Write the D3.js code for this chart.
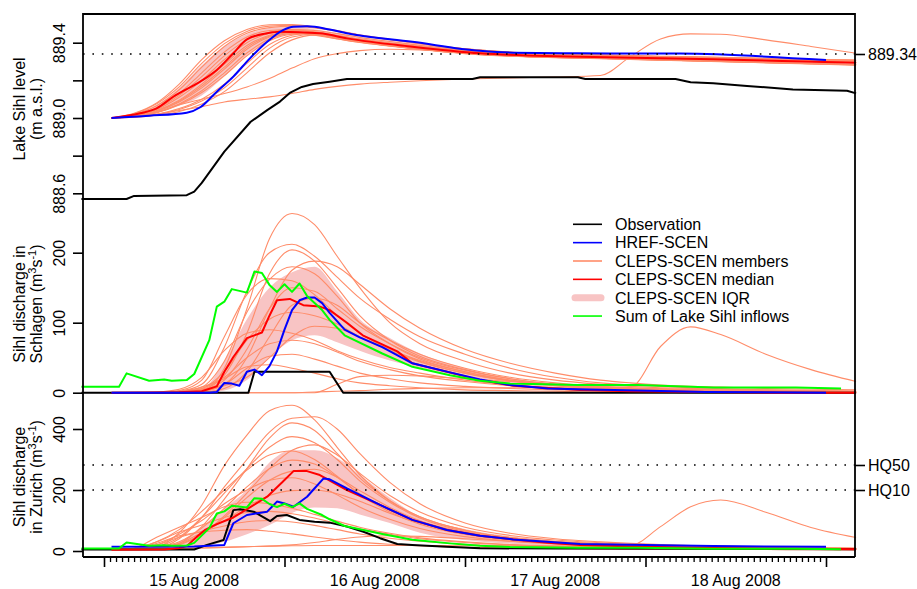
<!DOCTYPE html>
<html><head><meta charset="utf-8">
<script src="https://cdn.jsdelivr.net/npm/d3@7"></script>
<style>
body{margin:0;background:#fff}
svg{display:block}
text{font-family:"Liberation Sans",Arial,Helvetica,sans-serif;fill:#000}
</style></head>
<body><svg id="chart" width="917" height="589"></svg>
<script>
// ---------------- DATA (hours after 15 Aug 2008 00:00) ----------------
const memberHours = [1,4,7,10,13,16,19,22,25,28,31,34,38,42,48,54,60,66,70,74,78,82,88,94,100];

// Lake Sihl level (m a.s.l.) – CLEPS-SCEN members
const levelMembers = [
 [889.000,889.025,889.080,889.180,889.310,889.410,889.470,889.495,889.497,889.485,889.465,889.442,889.418,889.396,889.368,889.350,889.341,889.336,889.332,889.328,889.325,889.322,889.317,889.312,889.308],
 [889.000,889.020,889.065,889.150,889.270,889.380,889.450,889.480,889.487,889.478,889.460,889.439,889.416,889.394,889.366,889.349,889.340,889.335,889.331,889.327,889.324,889.321,889.316,889.311,889.306],
 [889.000,889.015,889.055,889.130,889.240,889.350,889.430,889.465,889.470,889.455,889.436,889.417,889.396,889.378,889.354,889.339,889.331,889.326,889.322,889.318,889.314,889.311,889.306,889.300,889.295],
 [889.000,889.022,889.075,889.165,889.290,889.395,889.460,889.488,889.492,889.482,889.462,889.440,889.417,889.395,889.367,889.349,889.340,889.335,889.331,889.327,889.324,889.321,889.316,889.311,889.307],
 [889.000,889.012,889.045,889.110,889.200,889.310,889.400,889.450,889.465,889.458,889.438,889.418,889.397,889.379,889.355,889.340,889.332,889.327,889.323,889.319,889.315,889.312,889.307,889.301,889.296],
 [889.000,889.010,889.040,889.095,889.180,889.285,889.385,889.440,889.458,889.440,889.420,889.401,889.382,889.364,889.342,889.328,889.320,889.315,889.311,889.307,889.303,889.299,889.293,889.287,889.281],
 [889.000,889.010,889.035,889.085,889.160,889.260,889.365,889.430,889.455,889.452,889.434,889.415,889.395,889.377,889.353,889.338,889.330,889.325,889.321,889.317,889.313,889.310,889.305,889.299,889.294],
 [889.000,889.008,889.030,889.075,889.145,889.240,889.345,889.420,889.448,889.442,889.421,889.402,889.383,889.365,889.343,889.329,889.321,889.316,889.312,889.308,889.304,889.300,889.294,889.288,889.282],
 [889.000,889.008,889.028,889.070,889.135,889.225,889.330,889.410,889.445,889.450,889.434,889.416,889.396,889.378,889.354,889.339,889.331,889.326,889.322,889.318,889.314,889.311,889.306,889.300,889.295],
 [889.000,889.012,889.050,889.120,889.220,889.330,889.415,889.455,889.470,889.465,889.448,889.428,889.406,889.386,889.360,889.344,889.336,889.331,889.327,889.323,889.320,889.317,889.312,889.306,889.302],
 [889.000,889.010,889.038,889.090,889.170,889.270,889.375,889.435,889.456,889.445,889.424,889.404,889.384,889.366,889.344,889.330,889.322,889.317,889.313,889.309,889.305,889.301,889.295,889.289,889.283],
 [889.000,889.005,889.020,889.050,889.100,889.180,889.290,889.390,889.440,889.452,889.438,889.419,889.398,889.380,889.356,889.341,889.332,889.327,889.323,889.319,889.315,889.312,889.307,889.301,889.296],
 [889.000,889.005,889.018,889.045,889.090,889.160,889.265,889.370,889.430,889.445,889.428,889.408,889.387,889.368,889.345,889.330,889.322,889.317,889.313,889.309,889.305,889.301,889.295,889.289,889.283],
 [889.000,889.004,889.015,889.035,889.075,889.140,889.240,889.345,889.415,889.440,889.430,889.411,889.390,889.371,889.347,889.331,889.323,889.318,889.314,889.310,889.306,889.302,889.296,889.290,889.284],
 [889.000,889.010,889.030,889.070,889.100,889.130,889.165,889.210,889.265,889.315,889.342,889.358,889.365,889.362,889.350,889.338,889.330,889.325,889.322,889.318,889.314,889.311,889.306,889.300,889.295],
 [889.000,889.006,889.020,889.040,889.060,889.085,889.100,889.112,889.130,889.152,889.168,889.180,889.190,889.198,889.207,889.213,889.218,889.226,889.326,889.420,889.447,889.445,889.415,889.380,889.344]
];
const levelIqrLow  = [889.000,889.008,889.028,889.065,889.120,889.220,889.330,889.410,889.445,889.440,889.422,889.405,889.385,889.368,889.345,889.331,889.323,889.317,889.313,889.309,889.305,889.301,889.295,889.289,889.283];
const levelIqrHigh = [889.000,889.020,889.070,889.160,889.280,889.380,889.445,889.478,889.487,889.472,889.452,889.432,889.410,889.390,889.365,889.348,889.340,889.335,889.332,889.328,889.325,889.322,889.317,889.312,889.308];

// Sihl discharge in Schlagen (m3/s) – members
const schlagenMembers = [
 [0,0,0,0,3,35,120,220,256,240,195,150,100,70,45,28,18,12,9,7,6,5,4,3,2],
 [0,0,0,2,12,65,145,200,212,195,165,135,105,80,55,35,22,14,11,9,7,6,4,3,2],
 [0,0,0,0,4,25,85,170,204,188,150,110,75,52,33,20,12,8,6,5,4,3,2,2,1],
 [0,0,0,0,2,12,50,120,175,188,180,155,120,92,62,42,28,18,14,11,9,8,6,5,4],
 [0,0,0,1,8,45,115,162,180,170,138,100,70,48,30,18,11,7,5,4,3,3,2,2,1],
 [0,0,0,3,18,80,140,163,160,140,110,85,62,45,28,17,10,6,5,4,3,3,2,1,1],
 [0,0,0,0,4,18,62,120,150,145,120,95,70,50,32,20,12,8,6,5,4,3,2,2,1],
 [0,0,0,0,1,6,30,80,125,135,125,100,75,55,35,22,14,9,7,5,4,3,3,2,1],
 [0,0,0,1,6,30,75,105,115,110,98,80,60,44,28,17,10,6,5,4,3,3,2,1,1],
 [0,0,0,0,2,10,22,50,80,95,92,80,62,46,30,18,11,7,5,4,3,3,2,1,1],
 [0,0,1,5,22,60,85,90,85,75,60,48,36,28,18,11,7,5,4,3,2,2,1,1,1],
 [0,0,0,2,8,22,50,70,75,70,58,45,33,24,16,10,6,4,3,2,2,2,1,1,0],
 [0,0,0,1,5,12,35,52,55,48,38,28,20,14,9,6,4,3,2,2,1,1,1,0,0],
 [0,0,0,1,6,20,37,40,35,28,20,14,10,7,4,3,2,1,1,1,0,0,0,0,0],
 [0,0,0,0,0,0,0,0,0,0,12,23,25,24,20,16,12,9,7,6,5,4,3,2,2],
 [0,0,0,0,0,0,0,0,0,1,2,3,5,6,7,7,7,7,8,66,94,83,55,33,16]
];
const schlagenIqrLow  = [0,0,0,0,0,3,18,50,75,82,72,60,46,36,22,11,5,3,2,1,1,1,0,0,0];
const schlagenIqrHigh = [0,0,0,1,5,45,105,150,172,180,145,105,78,56,35,18,9,5,3,2,2,1,1,0,0];

// Sihl discharge in Zurich (m3/s) – members
const zurichMembers = [
 [5,6,12,60,150,280,380,460,478,430,340,250,165,112,68,44,31,24,20,17,15,13,11,9,8],
 [5,6,10,40,110,210,300,390,435,440,400,320,225,155,92,58,40,30,25,21,18,16,13,11,10],
 [5,5,8,25,80,170,270,370,420,395,320,240,165,112,68,44,31,24,20,17,15,13,11,9,8],
 [5,6,14,45,110,190,270,340,375,355,300,230,160,108,64,42,30,22,18,15,13,12,10,8,7],
 [5,5,8,20,55,115,190,270,330,348,315,255,182,128,78,51,36,27,22,19,16,14,12,10,9],
 [5,8,30,70,130,200,265,315,328,300,245,185,128,88,54,36,26,20,17,14,12,11,9,8,7],
 [5,6,12,30,75,140,210,270,298,285,242,188,133,94,57,38,27,20,17,14,12,11,9,8,7],
 [5,5,9,22,55,110,175,232,262,268,242,198,143,99,61,40,28,21,17,15,13,11,9,8,7],
 [5,7,20,55,100,155,200,232,240,220,184,144,104,74,47,32,23,18,15,13,11,10,8,7,6],
 [5,5,10,25,60,100,145,182,198,200,188,163,124,91,59,40,28,21,17,15,13,11,9,8,7],
 [5,10,45,78,110,145,160,155,140,120,98,78,58,43,30,21,16,13,11,10,9,8,7,6,5],
 [5,8,30,62,85,110,126,130,122,108,90,72,55,40,28,20,15,12,10,9,8,7,6,5,5],
 [5,7,20,45,65,82,96,100,95,84,70,56,42,32,22,16,12,10,9,8,7,6,5,5,4],
 [5,8,25,50,62,68,70,65,56,46,37,29,22,17,12,10,8,7,6,6,5,5,5,4,4],
 [5,5,6,8,10,12,14,16,20,28,38,46,50,48,40,32,25,20,17,15,13,12,10,9,8],
 [5,5,6,8,10,12,14,16,17,18,18,18,18,18,17,17,16,16,18,80,145,167,127,77,44]
];
const zurichIqrLow  = [5,5,6,8,14,30,55,85,125,143,140,120,92,60,36,24,17,13,11,10,9,8,7,6,5];
const zurichIqrHigh = [8,8,12,30,80,140,200,290,330,330,305,250,175,112,72,48,33,25,22,20,18,16,13,11,10];

// Observation
const obsLevelHours = [-3,3,4,11,12,13,16,19.5,21.7,23.4,24.7,26.3,27.8,30,32.3,49,50,63,64,76,78,81,85.5,91.6,98.8,100];
const obsLevel = [888.570,888.570,888.586,888.590,888.609,888.655,888.821,888.980,889.042,889.087,889.133,889.165,889.181,889.193,889.207,889.207,889.216,889.216,889.207,889.207,889.190,889.184,889.170,889.152,889.145,889.131];
const obsSchlagenHours = [-3,19.2,20,30,31.8,100];
const obsSchlagen = [0,0,30,30,0,0];
const obsZurichHours = [-3,12,13.7,15.9,17.2,18.1,19.9,22.1,23,24.3,26,28,30,32.3,34.5,36.7,39,41,45.6,50,60,80,100];
const obsZurich = [5,5,20,36,134,137,129,98,115,118,102,96,93,80,63,42,23,20,14,9,8,7,6];

// HREF-SCEN
const hrefLevelHours = [1,6,11,12.8,15,17.2,19.4,21.7,23.8,25.2,27,30,32.3,41,50,54.4,63,76.6,96];
const hrefLevel = [889.000,889.012,889.028,889.057,889.140,889.220,889.317,889.405,889.467,889.485,889.487,889.470,889.450,889.405,889.357,889.347,889.344,889.342,889.308];
const hrefSchlagenHours = [1,14,15,16,17,18,19,20,21,22,23,24,25,26,27,28,29,30,32,34,37,41,46,50,54,59,63,71,80,96];
const hrefSchlagen = [0,0,1,14,13,10,30,33,25,38,59,90,118,132,136,136,128,114,90,79,65,42,29,19,11,6,5,3,1,0];
const hrefZurichHours = [1,12,16,17.2,19,21.7,23,24,25.2,27,27.8,29.2,30,32.3,36.7,41,45.6,50,54.4,58.9,63.3,81,96];
const hrefZurich = [14,15,20,91,118,129,162,156,145,178,200,238,235,205,151,102,69,50,38,30,23,16,14];

// CLEPS-SCEN median
const medianLevelHours = [1,4.8,7,9.2,12.8,15,17.2,19,21.7,23.4,28.7,32.3,41,50,58.9,63.3,81,100];
const medianLevel = [889.000,889.025,889.051,889.113,889.193,889.255,889.344,889.418,889.450,889.458,889.450,889.423,889.379,889.344,889.329,889.326,889.312,889.294];
const medianSchlagenHours = [1,10,13,15,16,17.2,19,21,22,23,24.7,26.5,28.7,30,32.3,34.4,39,41,45.6,50,54.4,63.3,70,80,90,100];
const medianSchlagen = [0,0.5,2,9,30,51,78,86,110,132,134,125,123,118,100,82,59,42,30,18,10,4,2,1,0,0];
const medianZurichHours = [1,8,10,11,12.5,13.5,15,17.2,19.4,21.7,23.8,25.2,27,28.7,32.3,36.7,41,45.6,50,54.4,59,63.3,72,81,90,100];
const medianZurich = [4,5,10,16,50,70,88,110,143,178,228,262,262,249,200,151,102,69,50,38,27,20,14,10,8,6];

// Sum of Lake Sihl inflows
const inflowHours = [-3,2,3,6,8,9,11,12,14,15,16,17,19,20,21,22,23,24,25,26,27,29,30,32,37,41,46,50,54,63,71,81,92,98];
const inflow = [8.6,8.6,27.6,17,19,17,18,26.7,75,123,130,148,143,173,171,154,144,155,144,156,138,118,104,82,56,37,25,17,13,11,11,7.6,7.6,6];

// Axis ticks, thresholds, labels
const levelTicks = [888.6,888.8,889.0,889.2,889.4];
const levelTickLabels = ["888.6","","889.0","","889.4"];
const schlagenTicks = [0,100,200];
const zurichTicks = [0,200,400];
const lakeThreshold = 889.34;
const floodThresholds = [282,200];
const floodLabels = ["HQ50","HQ10"];
const dayHours = [0,24,48,72,96];
const dayLabels = ["15 Aug 2008","16 Aug 2008","17 Aug 2008","18 Aug 2008"];
const legendLabels = ["Observation","HREF-SCEN","CLEPS-SCEN members","CLEPS-SCEN median","CLEPS-SCEN IQR","Sum of Lake Sihl inflows"];

// ---------------- DRAWING ----------------
const COL = {obs:"#000000", href:"#0000FF", member:"#FF8C69", median:"#FF0000", iqr:"#F8C4C4", inflow:"#00FF00"};
const svg = d3.select("#chart");
const T0 = Date.UTC(2008,7,15);
const toDate = h => new Date(T0 + h*3600000);
const x = d3.scaleUtc().domain([toDate(0), toDate(96)]).range([104, 826]);
const X = h => x(toDate(h));
const L = 83, R = 855, TOP = 14, AXY = 557;

const yLevel = d3.scaleLinear().domain([888.6, 889.4]).range([193.3, 42.7]);
const ySchl = d3.scaleLinear().domain([0, 200]).range([392.7, 252.7]);
const yZur = d3.scaleLinear().domain([0, 400]).range([551, 429]);

const panels = [
 {y:yLevel, members:levelMembers, lo:levelIqrLow, hi:levelIqrHigh, obs:[obsLevelHours,obsLevel], href:[hrefLevelHours,hrefLevel], med:[medianLevelHours,medianLevel], inflow:false, smooth:true},
 {y:ySchl, members:schlagenMembers, lo:schlagenIqrLow, hi:schlagenIqrHigh, obs:[obsSchlagenHours,obsSchlagen], href:[hrefSchlagenHours,hrefSchlagen], med:[medianSchlagenHours,medianSchlagen], inflow:true, smooth:false},
 {y:yZur, members:zurichMembers, lo:zurichIqrLow, hi:zurichIqrHigh, obs:[obsZurichHours,obsZurich], href:[hrefZurichHours,hrefZurich], med:[medianZurichHours,medianZurich], inflow:true, smooth:false}
];

const gData = svg.append("g");
panels.forEach(p => {
  const y = p.y;
  const area = d3.area().x(d=>X(d[0])).y0(d=>y(d[1])).y1(d=>y(d[2])).curve(d3.curveMonotoneX);
  gData.append("path").datum(d3.zip(memberHours,p.lo,p.hi)).attr("d",area).attr("fill",COL.iqr).attr("stroke","none");
  const mline = d3.line().x(d=>X(d[0])).y(d=>y(d[1])).curve(d3.curveMonotoneX);
  p.members.forEach(m => {
    gData.append("path").datum(d3.zip(memberHours,m)).attr("d",mline)
      .attr("fill","none").attr("stroke",COL.member).attr("stroke-width",1.1).attr("stroke-linejoin","round");
  });
  const sline = d3.line().x(d=>X(d[0])).y(d=>y(d[1])).curve(p.smooth?d3.curveMonotoneX:d3.curveLinear);
  const lline = d3.line().x(d=>X(d[0])).y(d=>y(d[1]));
  const draw = (pair, col, gen) => gData.append("path").datum(d3.zip(pair[0],pair[1])).attr("d",gen)
      .attr("fill","none").attr("stroke",col).attr("stroke-width",2).attr("stroke-linejoin","round");
  draw(p.obs, COL.obs, lline);
  draw(p.med, COL.median, sline);
  draw(p.href, COL.href, sline);
  if (p.inflow) draw([inflowHours,inflow], COL.inflow, lline);
});

// dotted thresholds
const dotted = (yy) => svg.append("line").attr("x1",L).attr("x2",R).attr("y1",yy).attr("y2",yy)
  .attr("stroke","#000").attr("stroke-width",1.6).attr("stroke-dasharray","1.6,7.8").attr("stroke-linecap","butt");
dotted(yLevel(lakeThreshold));
floodThresholds.forEach(v => dotted(yZur(v)));

// frame
const frame = svg.append("g").attr("stroke","#000").attr("stroke-width",1.8).attr("fill","none");
frame.append("path").attr("d",`M${L},${AXY}V${TOP}H${R}V${AXY}`);
frame.append("line").attr("x1",L).attr("x2",R).attr("y1",AXY).attr("y2",AXY);

// left axes
function leftAxis(scale, ticks, labels){
  const g = svg.append("g").attr("transform",`translate(${L},0)`)
    .call(d3.axisLeft(scale).tickValues(ticks).tickSize(10).tickFormat((d,i)=>labels[i]));
  g.select(".domain").remove();
  g.selectAll(".tick line").attr("stroke","#000").attr("stroke-width",1.6);
  g.selectAll(".tick text").attr("transform","rotate(-90)").attr("x",0).attr("y",-18).attr("dy",null)
    .attr("text-anchor","middle").style("font-size","16px").attr("font-family",null);
}
leftAxis(yLevel, levelTicks, levelTickLabels);
leftAxis(ySchl, schlagenTicks, schlagenTicks.map(String));
leftAxis(yZur, zurichTicks, zurichTicks.map(String));

// right axes
function rightAxis(scale, ticks, labels){
  const g = svg.append("g").attr("transform",`translate(${R},0)`)
    .call(d3.axisRight(scale).tickValues(ticks).tickSize(10).tickPadding(3).tickFormat((d,i)=>labels[i]));
  g.select(".domain").remove();
  g.selectAll(".tick line").attr("stroke","#000").attr("stroke-width",1.6);
  g.selectAll(".tick text").style("font-size","16px").attr("font-family",null);
}
rightAxis(yLevel, [lakeThreshold], ["889.34"]);
rightAxis(yZur, floodThresholds, floodLabels);

// bottom axis
const major = svg.append("g").attr("transform",`translate(0,${AXY})`)
  .call(d3.axisBottom(x).tickValues(dayHours.map(toDate)).tickSize(10).tickFormat(""));
major.select(".domain").remove();
major.selectAll(".tick line").attr("stroke","#000").attr("stroke-width",1.6);
const minorHours = d3.range(0, 96.001, 0.8).filter(h => Math.abs(h/24 - Math.round(h/24)) > 0.01);
const minor = svg.append("g").attr("transform",`translate(0,${AXY})`)
  .call(d3.axisBottom(x).tickValues(minorHours.map(toDate)).tickSize(5).tickFormat(""));
minor.select(".domain").remove();
minor.selectAll(".tick line").attr("stroke","#000").attr("stroke-width",1.3);
svg.append("g").selectAll("text").data(dayLabels).join("text")
  .attr("x",(d,i)=>X(dayHours[i]+12)).attr("y",586).attr("text-anchor","middle")
  .style("font-size","16px").text(d=>d);

// axis titles
function title(cx, cy, lines){
  lines.forEach((ln, i) => {
    const t = svg.append("text").attr("transform",`translate(${cx[i]},${cy}) rotate(-90)`)
      .attr("text-anchor","middle").style("font-size","16px");
    ln.forEach(part => {
      const s = t.append("tspan").text(part.t);
      if (part.sup) s.attr("dy",-6).style("font-size","11px");
      if (part.down) s.attr("dy",6);
    });
  });
}
title([25,42], 109, [[{t:"Lake Sihl level"}],[{t:"(m a.s.l.)"}]]);
title([24.5,41.5], 304, [[{t:"Sihl discharge in"}],
  [{t:"Schlagen (m"},{t:"3",sup:true},{t:"s",down:true},{t:"-1",sup:true},{t:")",down:true}]]);
title([24.5,41.5], 477, [[{t:"Sihl discharge"}],
  [{t:"in Zurich (m"},{t:"3",sup:true},{t:"s",down:true},{t:"-1",sup:true},{t:")",down:true}]]);

// legend
const legendStyles = [
  {c:COL.obs,w:1.6},{c:COL.href,w:1.6},{c:COL.member,w:1.6},{c:COL.median,w:1.6},{c:COL.iqr,w:7,cap:"round"},{c:COL.inflow,w:1.6}
];
const lg = svg.append("g");
legendLabels.forEach((lab,i) => {
  const yy = 224.3 + i*18.35;
  const st = legendStyles[i];
  lg.append("line").attr("x1",st.cap?575:573).attr("x2",st.cap?601:602).attr("y1",yy).attr("y2",yy)
    .attr("stroke",st.c).attr("stroke-width",st.w).attr("stroke-linecap",st.cap||"butt");
  lg.append("text").attr("x",615).attr("y",yy+5.8).style("font-size","16px").text(lab);
});
</script></body></html>
